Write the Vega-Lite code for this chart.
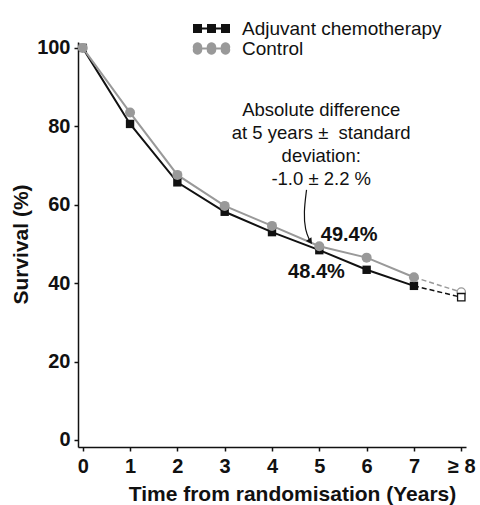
{
  "$schema": "https://vega.github.io/schema/vega-lite/v6.json",
  "width": 388,
  "height": 405,
  "autosize": {"type": "none"},
  "padding": {"left": 78, "top": 42, "right": 14, "bottom": 58},
  "config": {
    "font": "Liberation Sans",
    "view": {"stroke": null},
    "axis": {
      "grid": false,
      "domainColor": "#111111",
      "domainWidth": 1.5,
      "tickColor": "#111111",
      "tickWidth": 1.5,
      "tickSize": 4,
      "labelFont": "Liberation Sans",
      "labelFontWeight": "bold",
      "labelFontSize": 20,
      "labelColor": "#111111",
      "titleFont": "Liberation Sans",
      "titleFontWeight": "bold",
      "titleFontSize": 21,
      "titleColor": "#111111"
    }
  },
  "datasets": {
    "surv": [
      {"series": "Adjuvant chemotherapy", "year": 0, "survival": 100},
      {"series": "Adjuvant chemotherapy", "year": 1, "survival": 80.6},
      {"series": "Adjuvant chemotherapy", "year": 2, "survival": 65.7},
      {"series": "Adjuvant chemotherapy", "year": 3, "survival": 58.2},
      {"series": "Adjuvant chemotherapy", "year": 4, "survival": 53.0},
      {"series": "Adjuvant chemotherapy", "year": 5, "survival": 48.4},
      {"series": "Adjuvant chemotherapy", "year": 6, "survival": 43.4},
      {"series": "Adjuvant chemotherapy", "year": 7, "survival": 39.3},
      {"series": "Adjuvant chemotherapy", "year": 8, "survival": 36.4},
      {"series": "Control", "year": 0, "survival": 100},
      {"series": "Control", "year": 1, "survival": 83.5},
      {"series": "Control", "year": 2, "survival": 67.6},
      {"series": "Control", "year": 3, "survival": 59.7},
      {"series": "Control", "year": 4, "survival": 54.6},
      {"series": "Control", "year": 5, "survival": 49.4},
      {"series": "Control", "year": 6, "survival": 46.5},
      {"series": "Control", "year": 7, "survival": 41.5},
      {"series": "Control", "year": 8, "survival": 37.7}
    ],
    "pct": [
      {"x": 5.63, "y": 52.3, "label": "49.4%"},
      {"x": 4.94, "y": 42.9, "label": "48.4%"}
    ],
    "note": [
      {"x": 5.04, "y": 84.2, "label": "Absolute difference\nat 5 years ± \u00a0standard\ndeviation:\n-1.0 ± 2.2 %"}
    ],
    "arrow": [
      {"x": 4.73, "y": 63.8, "o": 0},
      {"x": 4.67, "y": 58.0, "o": 1},
      {"x": 4.70, "y": 53.5, "o": 2},
      {"x": 4.80, "y": 50.8, "o": 3}
    ],
    "head": [
      {"x": 4.81, "y": 50.6}
    ]
  },
  "layer": [
    {
      "data": {"name": "surv"},
      "transform": [{"filter": "datum.year <= 7"}],
      "mark": {"type": "line", "strokeWidth": 2},
      "encoding": {
        "x": {
          "field": "year",
          "type": "quantitative",
          "scale": {"domain": [-0.1, 8.1], "nice": false, "zero": false},
          "axis": {
            "title": "Time from randomisation (Years)",
            "values": [0, 1, 2, 3, 4, 5, 6, 7, 8],
            "labelExpr": "datum.value == 8 ? '≥ 8' : datum.label",
            "labelPadding": 5,
            "labelFlush": false,
            "labelOverlap": false,
            "labelBound": false,
            "titleX": 214,
            "titleY": 53,
            "titleBaseline": "alphabetic",
            "titleAlign": "center"
          }
        },
        "y": {
          "field": "survival",
          "type": "quantitative",
          "scale": {"domain": [-1.8, 101.5], "nice": false, "zero": false},
          "axis": {
            "title": "Survival (%)",
            "values": [0, 20, 40, 60, 80, 100],
            "labelPadding": 4,
            "titleAngle": -90,
            "titleX": -51,
            "titleY": 202,
            "titleBaseline": "alphabetic",
            "titleAlign": "center"
          }
        },
        "color": {
          "field": "series",
          "type": "nominal",
          "scale": {"domain": ["Adjuvant chemotherapy", "Control"], "range": ["#111111", "#999999"]},
          "legend": {
            "title": null,
            "orient": "none",
            "legendX": 124,
            "legendY": -23,
            "symbolSize": 100,
            "symbolStrokeWidth": 0,
            "labelFont": "Liberation Sans",
            "labelFontSize": 19,
            "labelColor": "#111111",
            "labelOffset": 21,
            "labelLimit": 400,
            "rowPadding": 0,
            "encode": {
              "symbols": {
                "update": {
                  "shape": [
                    {"test": "datum.value === 'Control'", "value": "M-1.9,0 A0.95,0.95 0 1,1 -3.7,0 A0.95,0.95 0 1,1 -1.9,0 Z M0.9,0 A0.95,0.95 0 1,1 -0.9,0 A0.95,0.95 0 1,1 0.9,0 Z M3.7,0 A0.95,0.95 0 1,1 1.9,0 A0.95,0.95 0 1,1 3.7,0 Z M-3.7,-0.2H3.7V0.2H-3.7Z"},
                    {"value": "M-3.7,-0.9H-1.9V0.9H-3.7Z M-0.9,-0.9H0.9V0.9H-0.9Z M1.9,-0.9H3.7V0.9H1.9Z M-3.7,-0.2H3.7V0.2H-3.7Z"}
                  ],
                  "fill": [
                    {"test": "datum.value === 'Control'", "value": "#999999"},
                    {"value": "#111111"}
                  ],
                  "stroke": {"value": "transparent"}
                }
              }
            }
          }
        }
      }
    },
    {
      "data": {"name": "surv"},
      "transform": [{"filter": "datum.year >= 7"}],
      "mark": {"type": "line", "strokeWidth": 1.5, "strokeDash": [5, 3]},
      "encoding": {
        "x": {"field": "year", "type": "quantitative"},
        "y": {"field": "survival", "type": "quantitative"},
        "color": {"field": "series", "type": "nominal"}
      }
    },
    {
      "data": {"name": "surv"},
      "transform": [{"filter": "datum.year < 8 && datum.series === 'Adjuvant chemotherapy'"}],
      "mark": {"type": "point", "shape": "square", "filled": true, "size": 70, "color": "#111111", "opacity": 1},
      "encoding": {
        "x": {"field": "year", "type": "quantitative"},
        "y": {"field": "survival", "type": "quantitative"}
      }
    },
    {
      "data": {"name": "surv"},
      "transform": [{"filter": "datum.year < 8 && datum.series === 'Control'"}],
      "mark": {"type": "point", "shape": "circle", "filled": true, "size": 100, "color": "#999999", "opacity": 1},
      "encoding": {
        "x": {"field": "year", "type": "quantitative"},
        "y": {"field": "survival", "type": "quantitative"}
      }
    },
    {
      "data": {"name": "surv"},
      "transform": [{"filter": "datum.year == 8 && datum.series === 'Control'"}],
      "mark": {"type": "point", "shape": "circle", "filled": true, "size": 70, "fill": "white", "stroke": "#999999", "strokeWidth": 1.3, "opacity": 1},
      "encoding": {
        "x": {"field": "year", "type": "quantitative"},
        "y": {"field": "survival", "type": "quantitative"}
      }
    },
    {
      "data": {"name": "surv"},
      "transform": [{"filter": "datum.year == 8 && datum.series === 'Adjuvant chemotherapy'"}],
      "mark": {"type": "point", "shape": "square", "filled": true, "size": 55, "fill": "white", "stroke": "#111111", "strokeWidth": 1.3, "opacity": 1},
      "encoding": {
        "x": {"field": "year", "type": "quantitative"},
        "y": {"field": "survival", "type": "quantitative"}
      }
    },
    {
      "data": {"name": "arrow"},
      "mark": {"type": "line", "interpolate": "basis", "strokeWidth": 1.2, "color": "#111111"},
      "encoding": {
        "x": {"field": "x", "type": "quantitative"},
        "y": {"field": "y", "type": "quantitative"},
        "order": {"field": "o", "type": "quantitative"}
      }
    },
    {
      "data": {"name": "head"},
      "mark": {"type": "point", "shape": "triangle-down", "filled": true, "size": 45, "color": "#111111", "angle": -35, "opacity": 1},
      "encoding": {
        "x": {"field": "x", "type": "quantitative"},
        "y": {"field": "y", "type": "quantitative"}
      }
    },
    {
      "data": {"name": "pct"},
      "mark": {"type": "text", "font": "Liberation Sans", "fontWeight": "bold", "fontSize": 20, "color": "#111111", "align": "center", "baseline": "middle"},
      "encoding": {
        "x": {"field": "x", "type": "quantitative"},
        "y": {"field": "y", "type": "quantitative"},
        "text": {"field": "label"}
      }
    },
    {
      "data": {"name": "note"},
      "mark": {"type": "text", "font": "Liberation Sans", "fontSize": 18.5, "color": "#111111", "align": "center", "baseline": "middle", "lineBreak": "\n", "lineHeight": 23},
      "encoding": {
        "x": {"field": "x", "type": "quantitative"},
        "y": {"field": "y", "type": "quantitative"},
        "text": {"field": "label"}
      }
    }
  ]
}
